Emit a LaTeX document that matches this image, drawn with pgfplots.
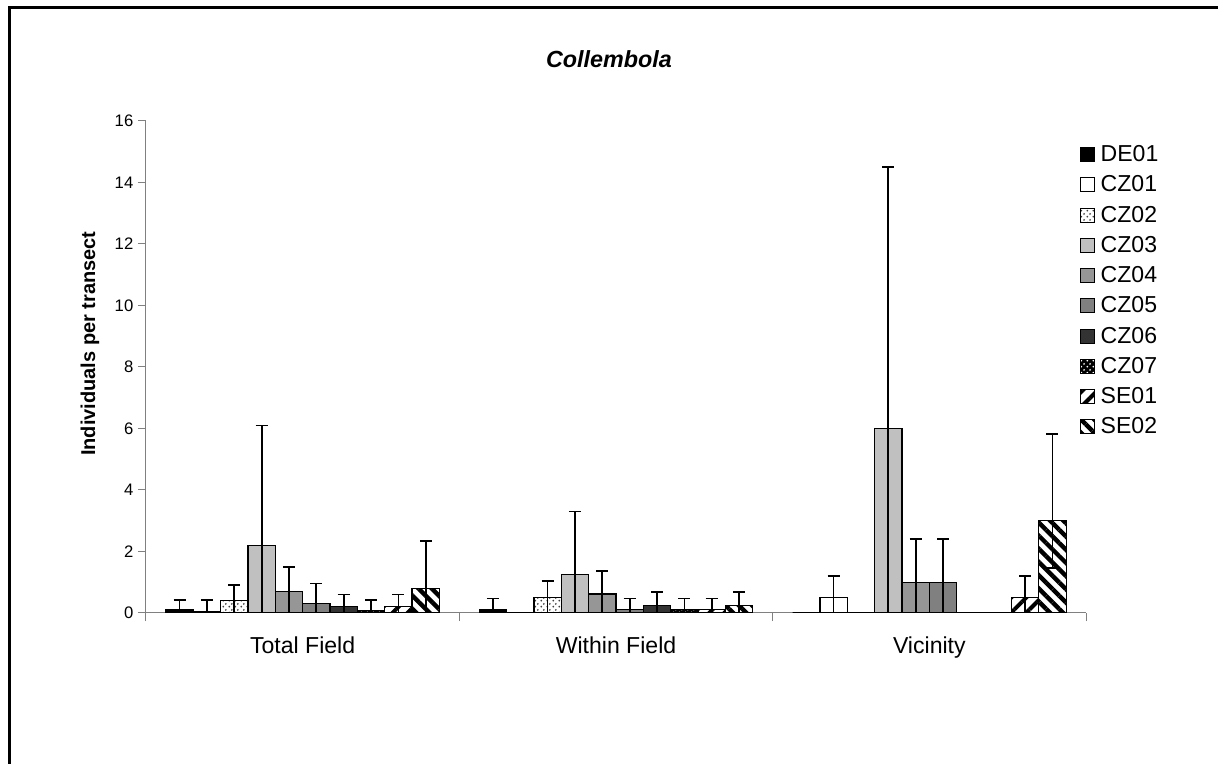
\documentclass[border=0pt]{standalone}
\usepackage{pgfplots}
\pgfplotsset{compat=1.18}
\usepackage{pgfplotstable}
\usepackage{fontspec}
\setmainfont{Liberation Sans}
\usetikzlibrary{patterns,patterns.meta}

\pgfdeclarepatternformonly{sparsedots}{\pgfpointorigin}{\pgfpoint{4.5pt}{4.5pt}}{\pgfpoint{4.5pt}{4.5pt}}{%
  \pgfpathcircle{\pgfpoint{1.1pt}{1.1pt}}{0.8pt}%
  \pgfpathcircle{\pgfpoint{3.35pt}{3.35pt}}{0.8pt}%
  \pgfusepath{fill}}

\definecolor{g1}{RGB}{192,192,192}
\definecolor{g2}{RGB}{150,150,150}
\definecolor{g3}{RGB}{128,128,128}
\definecolor{g4}{RGB}{51,51,51}
\definecolor{axgray}{RGB}{128,128,128}

\pgfplotstableread{
x  DE01 DE01e CZ01 CZ01e CZ02 CZ02e CZ03 CZ03e CZ04 CZ04e CZ05 CZ05e CZ06 CZ06e CZ07 CZ07e SE01 SE01e SE02 SE02e SE02m
0  0.10 0.32  0.05 0.37  0.40 0.50  2.20 3.90  0.70 0.80  0.30 0.66  0.20 0.40  0.08 0.34  0.20 0.40  0.80 1.53  1.53
1  0.12 0.35  0.00 0.00  0.50 0.53  1.25 2.05  0.62 0.74  0.11 0.36  0.24 0.45  0.11 0.36  0.11 0.36  0.24 0.45  0.45
2  0.00 0.00  0.50 0.70  0.00 0.00  6.00 8.50  1.00 1.40  1.00 1.40  0.00 0.00  0.00 0.00  0.50 0.70  3.00 2.82  1.53
}\data

\begin{document}
\begin{tikzpicture}
\useasboundingbox (-109.5pt,-113.25pt) rectangle (804pt,459.75pt);
\draw[line width=2.25pt] (-102.375pt,-140pt) -- (-102.375pt,454.125pt) -- (840pt,454.125pt);
\begin{axis}[
  at={(0pt,0pt)}, anchor=south west,
  scale only axis, width=705pt, height=369pt,
  xmin=-0.5, xmax=2.5, ymin=0, ymax=16,
  ybar=0pt, bar width=0.0873,
  axis x line*=bottom, axis y line*=left,
  axis line style={axgray, line width=0.75pt},
  tick style={axgray, line width=0.75pt},
  tick align=outside, major tick length=6pt,
  ytick={0,2,...,16},
  xtick={-0.5,0.5,1.5,2.5},
  x tick label as interval,
  xticklabels={Total Field, Within Field, Vicinity},
  xticklabel style={font=\fontsize{17.3}{19}\selectfont, yshift=-8pt},
  yticklabel style={font=\fontsize{12.5}{14}\selectfont},
  /pgf/number format/assume math mode=true,
  legend cell align=left,
  legend style={at={(rel axis cs:0.993,0.956)}, anchor=north west, draw=none, fill=none,
    font=\fontsize{17.3}{19}\selectfont, row sep=5.1pt, column sep=2.5pt, inner sep=0pt},
  legend image code/.code={\draw[#1, line width=0.75pt] (0pt,-5.25pt) rectangle (10.5pt,5.25pt);},
  every axis plot/.append style={draw=black, line width=0.9pt},
  /pgfplots/error bars/y dir=both,
  /pgfplots/error bars/y explicit,
  /pgfplots/error bars/error bar style={black, line width=1.3pt},
  /pgfplots/error bars/error mark options={black, rotate=90, mark size=4.5pt, line width=1.3pt},
]
\addplot[fill=black] table[x=x, y=DE01, y error=DE01e] {\data};
\addlegendentry{DE01}
\addplot[fill=white] table[x=x, y=CZ01, y error=CZ01e] {\data};
\addlegendentry{CZ01}
\addplot[fill=white, postaction={pattern=sparsedots, pattern color=black!75}] table[x=x, y=CZ02, y error=CZ02e] {\data};
\addlegendentry{CZ02}
\addplot[fill=g1] table[x=x, y=CZ03, y error=CZ03e] {\data};
\addlegendentry{CZ03}
\addplot[fill=g2] table[x=x, y=CZ04, y error=CZ04e] {\data};
\addlegendentry{CZ04}
\addplot[fill=g3] table[x=x, y=CZ05, y error=CZ05e] {\data};
\addlegendentry{CZ05}
\addplot[fill=g4] table[x=x, y=CZ06, y error=CZ06e] {\data};
\addlegendentry{CZ06}
\addplot[fill=black, postaction={pattern=sparsedots, pattern color=white}] table[x=x, y=CZ07, y error=CZ07e] {\data};
\addlegendentry{CZ07}
\addplot[fill=white, postaction={pattern={Lines[angle=45, distance=8pt, line width=3pt]}, pattern color=black}] table[x=x, y=SE01, y error=SE01e] {\data};
\addlegendentry{SE01}
\addplot[fill=white, postaction={pattern={Lines[angle=-45, distance=7pt, line width=3.3pt]}, pattern color=black}] table[x=x, y=SE02, y error plus=SE02e, y error minus=SE02m] {\data};
\addlegendentry{SE02}
\end{axis}
\node[font=\bfseries\itshape\fontsize{17.5}{20}\selectfont] at (347.25pt,415.5pt) {Collembola};
\node[font=\bfseries\fontsize{15}{17}\selectfont, rotate=90] at (-42pt,202pt) {Individuals per transect};
\end{tikzpicture}
\end{document}
